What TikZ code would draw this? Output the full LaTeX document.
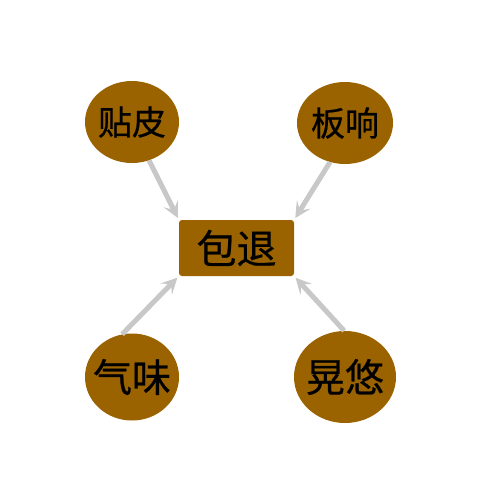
\documentclass[tikz,border=0pt]{standalone}
\usepackage{fontspec}
\newfontfamily\cjk[FakeBold=0.6]{Noto Sans CJK SC}
\usetikzlibrary{shapes.geometric,arrows.meta}
\definecolor{nutbrown}{HTML}{9A6300}
\definecolor{linkgray}{HTML}{C8C8C8}

\begin{document}
\begin{tikzpicture}[x=1pt,y=-1pt,
  cause/.style={ellipse, fill=nutbrown, inner sep=0pt, font=\cjk\fontsize{34}{34}\selectfont},
  result/.style={rectangle, rounded corners=3pt, fill=nutbrown, minimum width=115pt, minimum height=56pt, inner sep=0pt, font=\cjk\fontsize{40}{40}\selectfont},
  link/.style={draw=linkgray, line width=5pt, shorten >=2pt, -{Stealth[length=16pt,width=16pt,inset=7pt]}}]
  \useasboundingbox (0,0) rectangle (500,500);

  % Centre box
  \node[result] (tuihuo) at (236.5,248) {\makebox[0pt]{包退}};

  % Causes
  \node[cause, minimum width=94pt, minimum height=82pt] (tiepi) at (132,122) {\makebox[0pt]{贴皮}};
  \node[cause, minimum width=96pt, minimum height=82pt] (banxiang) at (345,123) {\makebox[0pt]{板响}};
  \node[cause, minimum width=94pt, minimum height=87pt, font=\cjk\fontsize{39}{39}\selectfont] (qiwei) at (132,377) {\makebox[0pt]{气味}};
  \node[cause, minimum width=102pt, minimum height=92pt, font=\cjk\fontsize{39}{39}\selectfont] (huangyou) at (345,377) {\makebox[0pt]{晃悠}};

  % Arrows
  \draw[link] (tiepi.-66) -- (tuihuo.north west);
  \draw[link] (banxiang.249) -- (tuihuo.north east);
  \draw[link] (qiwei.103) -- (tuihuo.south west);
  \draw[link] (huangyou.91) -- (tuihuo.south east);
\end{tikzpicture}
\end{document}
